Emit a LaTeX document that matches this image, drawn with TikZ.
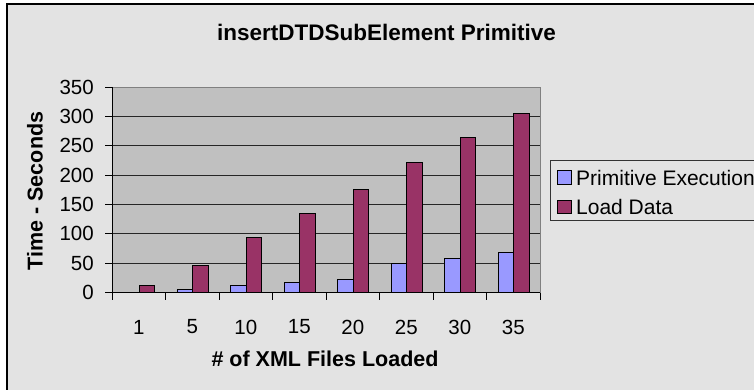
\documentclass[tikz,border=0pt]{standalone}
\usepackage{fontspec}
\setmainfont{Liberation Sans}
\definecolor{chartbg}{HTML}{E3E3E3}
\definecolor{plotbg}{HTML}{C0C0C0}
\definecolor{plotedge}{HTML}{808080}
\definecolor{serA}{HTML}{9999FF}
\definecolor{serB}{HTML}{993366}
\tikzset{
  lbl/.style={inner sep=0pt, font=\fontsize{20.5}{24}\selectfont},
  leglbl/.style={inner sep=0pt, font=\fontsize{21}{24}\selectfont},
  axtitle/.style={inner sep=0pt, font=\fontsize{21.5}{25}\selectfont\bfseries},
  charttitle/.style={inner sep=0pt, font=\fontsize{22.5}{26}\selectfont\bfseries},
  gridline/.style={line width=0.9pt, black!85},
  bar/.style={line width=0.9pt, draw=black},
  tickmark/.style={line width=0.9pt, black}
}
\begin{document}
\begin{tikzpicture}[x=1pt, y=-1pt]
  \useasboundingbox (0,0) rectangle (754,390);
  \clip (0,0) rectangle (754,390);
  \fill[white] (0,0) rectangle (754,390);
  % chart area
  \draw[line width=2pt, fill=chartbg] (7,4.5) rectangle (800,430);
  % plot area
  \fill[plotbg] (112,87) rectangle (540,292.7);
  \draw[plotedge, line width=0.9pt] (112,87) -- (540,87) -- (540,292.7);
  % horizontal gridlines and value ticks
  \foreach \v in {50,100,...,300}
    \draw[gridline] (112,{292.7-\v*0.5877}) -- (540,{292.7-\v*0.5877});
  \foreach \v in {0,50,...,350} {
    \draw[tickmark] (105,{292.7-\v*0.5877}) -- (112,{292.7-\v*0.5877});
    \node[lbl, anchor=east] (val\v) at (94,{292.7-\v*0.5877}) {\v};
  }
  % bars: primitive execution / load data
  \foreach \a/\b/\lab [count=\i from 0] in
      {1.2/12/1, 6/47/5, 12.5/93.5/10, 17.5/135/15, 23/176/20, 50/221/25, 58.5/264/30, 69/305/35} {
    \pgfmathsetmacro\xo{112+53.5*\i}
    \draw[bar, fill=serA] (\xo+11.5,292.7) rectangle (\xo+27,{292.7-\a*0.5877});
    \draw[bar, fill=serB] (\xo+27,292.7) rectangle (\xo+42.5,{292.7-\b*0.5877});
    \node[lbl] (cat\i) at (\xo+26.75,327) {\lab};
  }
  % category ticks
  \foreach \i in {0,...,8}
    \draw[tickmark] ({112+53.5*\i},292.7) -- ({112+53.5*\i},299.5);
  % axes
  \draw[line width=1pt, black] (112,87) -- (112,292.7) -- (540,292.7);
  % titles
  \node[charttitle] (title) at (386.5,32) {insertDTDSubElement Primitive};
  \node[axtitle, rotate=90] (ytitle) at (35,191) {Time - Seconds};
  \node[axtitle] (xtitle) at (325,359) {\# of XML Files Loaded};
  % legend
  \draw[line width=0.9pt, black!80, fill=chartbg] (550.7,160) rectangle (800,220.7);
  \draw[line width=0.9pt, fill=serA] (557.3,170.7) rectangle (571.7,184);
  \draw[line width=0.9pt, fill=serB] (557.3,200.7) rectangle (571.7,213.3);
  \node[leglbl, anchor=west] (legA) at (576,177.5) {Primitive Execution};
  \node[leglbl, anchor=west] (legB) at (576,207) {Load Data};
\end{tikzpicture}
\end{document}
